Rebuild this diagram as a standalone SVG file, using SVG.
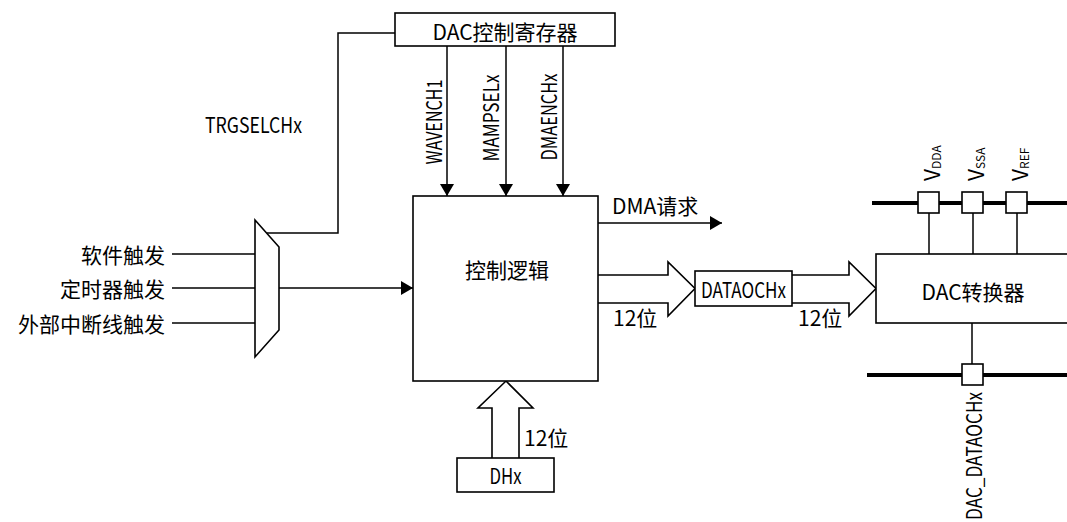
<svg xmlns="http://www.w3.org/2000/svg" width="1067" height="522" viewBox="0 0 1067 522">
<style>
text{font-family:"Noto Sans CJK SC","Noto Sans",sans-serif;font-size:21px;fill:#000;dominant-baseline:central}
.ln{stroke:#000;stroke-width:1.5;fill:none}
.box{stroke:#000;stroke-width:1.6;fill:#fff}
.bus{stroke:#000;stroke-width:4;fill:none}
.mid{text-anchor:middle}
.end{text-anchor:end}
</style>
<defs>
<marker id="ah" markerUnits="userSpaceOnUse" markerWidth="14" markerHeight="14" viewBox="0 0 12 14" refX="12" refY="7" orient="auto">
<path d="M0,0 L12,7 L0,14 Z" fill="#000"/>
</marker>
</defs>
<rect width="1067" height="522" fill="#fff"/>

<g id="connectors">
<polyline class="ln" points="267,233 338,233 338,33 395,33"/>
<line class="ln" x1="172" y1="254" x2="255" y2="254"/>
<line class="ln" x1="172" y1="288" x2="255" y2="288"/>
<line class="ln" x1="172" y1="323" x2="255" y2="323"/>
<line class="ln" x1="279" y1="288" x2="413" y2="288" marker-end="url(#ah)"/>
<line class="ln" x1="447" y1="46" x2="447" y2="196" marker-end="url(#ah)"/>
<line class="ln" x1="506" y1="46" x2="506" y2="196" marker-end="url(#ah)"/>
<line class="ln" x1="563" y1="46" x2="563" y2="196" marker-end="url(#ah)"/>
<line class="ln" x1="598" y1="223" x2="722" y2="223" marker-end="url(#ah)"/>
<path class="box" d="M598,275 H668 V262 L695,288.5 L668,316 V303 H598"/>
<path class="box" d="M792,275 H849 V262 L876,288.5 L849,316 V303 H792"/>
<path class="box" d="M492,458 V408 H478 L506,381 L533,408 H519 V458"/>
<line class="bus" x1="872" y1="203" x2="1067" y2="203"/>
<line class="bus" x1="867" y1="375" x2="1067" y2="375"/>
<line class="ln" x1="929" y1="213" x2="929" y2="254"/>
<line class="ln" x1="973" y1="213" x2="973" y2="254"/>
<line class="ln" x1="1017" y1="213" x2="1017" y2="254"/>
<line class="ln" x1="972" y1="323" x2="972" y2="364"/>
</g>

<g id="dac_ctrl_reg">
<rect class="box" x="395" y="13" width="220" height="33"/>
<text class="mid" x="505" y="31">DAC控制寄存器</text>
</g>

<g id="labels_ctrl">
<text class="mid" transform="translate(433,122) rotate(-90)" textLength="85" lengthAdjust="spacingAndGlyphs">WAVENCH1</text>
<text class="mid" transform="translate(490,118) rotate(-90)" textLength="87" lengthAdjust="spacingAndGlyphs">MAMPSELx</text>
<text class="mid" transform="translate(548,117) rotate(-90)" textLength="87" lengthAdjust="spacingAndGlyphs">DMAENCHx</text>
<text x="205" y="124" textLength="97" lengthAdjust="spacingAndGlyphs">TRGSELCHx</text>
</g>

<g id="inputs">
<text class="end" x="165" y="254">软件触发</text>
<text class="end" x="165" y="288">定时器触发</text>
<text class="end" x="165" y="323">外部中断线触发</text>
</g>

<g id="mux">
<polygon class="box" points="255,220 279,247 279,330 255,357"/>
</g>

<g id="ctrl_logic">
<rect class="box" x="413" y="196" width="185" height="185"/>
<text class="mid" x="507" y="269">控制逻辑</text>
</g>

<g id="dma_req">
<text x="612" y="205">DMA请求</text>
</g>

<g id="bits_labels">
<text x="613" y="317">12位</text>
<text x="798" y="317">12位</text>
<text x="524" y="437">12位</text>
</g>

<g id="dataoch">
<rect class="box" x="695" y="271" width="97" height="35"/>
<text class="mid" x="743.5" y="288.5" textLength="85" lengthAdjust="spacingAndGlyphs">DATAOCHx</text>
</g>

<g id="dac_conv">
<rect class="box" x="876" y="254" width="200" height="69"/>
<text class="mid" x="973" y="291">DAC转换器</text>
</g>

<g id="pins">
<rect class="box" x="918" y="192" width="21" height="21"/>
<rect class="box" x="962" y="192" width="21" height="21"/>
<rect class="box" x="1006" y="192" width="21" height="21"/>
<rect class="box" x="962" y="364" width="21" height="21"/>
<text transform="translate(931,181) rotate(-90)">V<tspan font-size="12" dy="4">DDA</tspan></text>
<text transform="translate(975,181) rotate(-90)">V<tspan font-size="12" dy="4">SSA</tspan></text>
<text transform="translate(1019,181) rotate(-90)">V<tspan font-size="12" dy="4">REF</tspan></text>
<text class="end" transform="translate(972.5,392) rotate(-90)" textLength="128" lengthAdjust="spacingAndGlyphs">DAC_DATAOCHx</text>
</g>

<g id="dhx">
<rect class="box" x="457" y="458" width="97" height="34"/>
<text class="mid" x="505.5" y="475" textLength="32" lengthAdjust="spacingAndGlyphs">DHx</text>
</g>
</svg>
